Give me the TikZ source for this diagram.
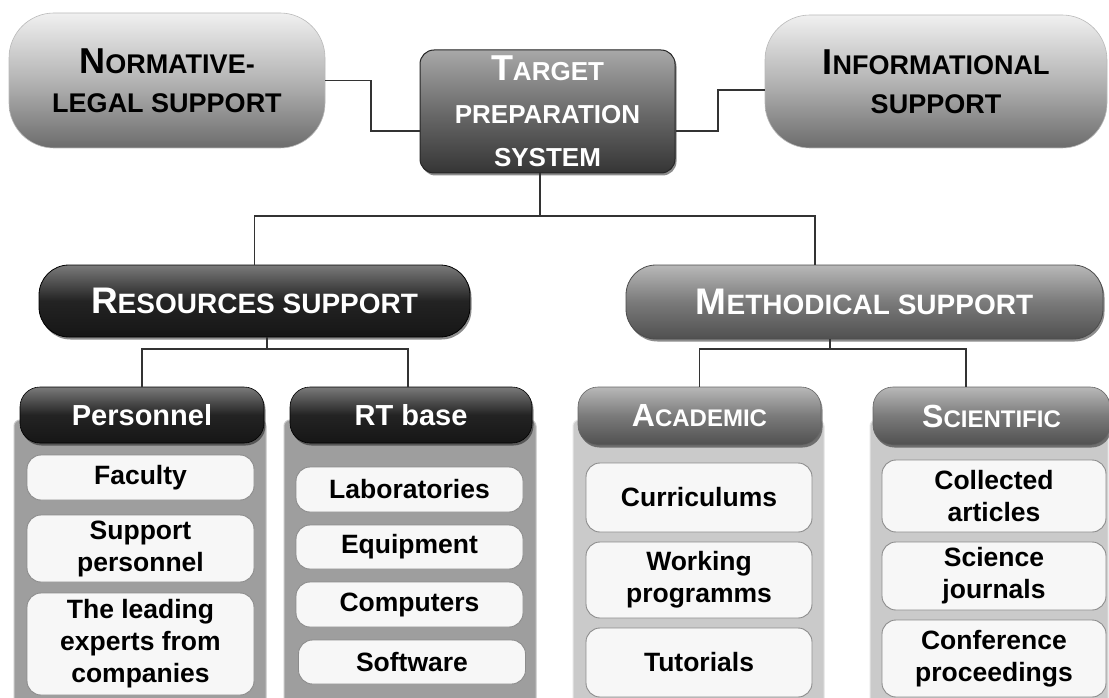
\documentclass[tikz,border=0pt]{standalone}
\usepackage{fontspec}
\setmainfont{Liberation Sans}
\usetikzlibrary{shadows}
\definecolor{lineC}{HTML}{333333}
\definecolor{pillTop}{HTML}{F0F0F0}
\definecolor{pillMid}{HTML}{B4B4B4}
\definecolor{pillBot}{HTML}{6C6C6C}
\definecolor{tgtTop}{HTML}{A8A8A8}
\definecolor{tgtMid}{HTML}{6A6A6A}
\definecolor{tgtBot}{HTML}{353535}
\definecolor{darkTop}{HTML}{7A7A7A}
\definecolor{darkMid}{HTML}{232323}
\definecolor{darkBot}{HTML}{161616}
\definecolor{medTop}{HTML}{B8B8B8}
\definecolor{medMid}{HTML}{7A7A7A}
\definecolor{medBot}{HTML}{505050}
\definecolor{panelDk}{HTML}{9E9E9E}
\definecolor{panelLt}{HTML}{CACACA}
\definecolor{itemFill}{HTML}{F7F7F7}
\definecolor{itemLine}{HTML}{8C8C8C}
\newcommand\Bg[2]{{\fontsize{#1}{#1}\selectfont #2}}
\begin{document}
\begin{tikzpicture}[x=1pt,y=-1pt,
  conn/.style={draw=lineC, line width=1.2pt},
  shad/.style={drop shadow={shadow xshift=1.5pt, shadow yshift=-2.5pt, opacity=0.45, fill=black}},
  pillL/.style={inner sep=0pt, align=center, rounded corners=45pt, top color=pillTop, bottom color=pillBot, middle color=pillMid, draw=gray!55, line width=0.6pt, text=black, font=\bfseries\fontsize{27}{39}\selectfont},
  tgtbox/.style={inner sep=0pt, align=center, rounded corners=14pt, top color=tgtTop, bottom color=tgtBot, middle color=tgtMid, draw=black!85, line width=1pt, text=white, font=\bfseries\fontsize{26}{43}\selectfont, shad},
  pillD/.style={inner sep=0pt, align=center, rounded corners=30pt, top color=darkTop, bottom color=darkBot, middle color=darkMid, draw=black, line width=0.8pt, text=white, font=\bfseries\fontsize{28}{34}\selectfont, shad},
  pillM/.style={inner sep=0pt, align=center, rounded corners=30pt, top color=medTop, bottom color=medBot, middle color=medMid, draw=black!70, line width=0.8pt, text=white, font=\bfseries\fontsize{28}{34}\selectfont, shad},
  hdrD/.style={inner sep=0pt, align=center, rounded corners=20pt, top color=darkTop, bottom color=darkBot, middle color=darkMid, draw=black, line width=0.6pt, text=white, font=\bfseries\fontsize{29}{34}\selectfont, shad},
  hdrM/.style={inner sep=0pt, align=center, rounded corners=20pt, top color=medTop, bottom color=medBot, middle color=medMid, draw=black!60, line width=0.6pt, text=white, font=\bfseries\fontsize{24}{30}\selectfont, shad},
  panelD/.style={inner sep=0pt, rounded corners=6pt, fill=panelDk, draw=gray!45, line width=1pt},
  panelL/.style={inner sep=0pt, rounded corners=6pt, fill=panelLt, draw=gray!20, line width=1pt},
  itembox/.style={inner sep=0pt, align=center, rounded corners=14pt, fill=itemFill, draw=itemLine, line width=0.9pt, text=black, font=\bfseries\fontsize{26.5}{32}\selectfont}
]
\useasboundingbox (0,0) rectangle (1109,698);
\clip (0,0) rectangle (1109,698);
\fill[white] (0,0) rectangle (1109,698);

% top row
\node[pillL, minimum width=316pt, minimum height=135pt] (norm) at (167,80.5) {\Bg{36}{N}ORMATIVE-\\LEGAL SUPPORT};
\node[tgtbox, minimum width=255pt, minimum height=123pt] (tgt) at (547.5,111.5) {\Bg{36}{T}ARGET\\PREPARATION\\SYSTEM};
\node[pillL, minimum width=342pt, minimum height=133pt] (info) at (936,81.5) {\Bg{36}{I}NFORMATIONAL\\SUPPORT};

% middle row
\node[pillD, minimum width=431pt, minimum height=72pt] (res) at (254.5,301) {\Bg{37}{R}ESOURCES SUPPORT};
\node[pillM, minimum width=477pt, minimum height=74pt] (meth) at (864.5,302) {\Bg{37}{M}ETHODICAL SUPPORT};

% panels
\node[panelD, minimum width=252pt, minimum height=300pt] (ppan) at (140,570) {};
\node[panelD, minimum width=252pt, minimum height=300pt] (rpan) at (410,570) {};
\node[panelL, minimum width=251pt, minimum height=300pt] (apan) at (698.5,570) {};
\node[panelL, minimum width=238pt, minimum height=300pt] (span) at (989,570) {};

% headers
\node[hdrD, minimum width=244pt, minimum height=56pt] (pers) at (142,415) {Personnel};
\node[hdrD, minimum width=242pt, minimum height=56pt] (rt) at (411,415) {RT base};
\node[hdrM, minimum width=243pt, minimum height=58pt] (acad) at (699.5,416) {\Bg{32}{A}CADEMIC};
\node[hdrM, minimum width=237pt, minimum height=58pt] (sci) at (991.5,416) {\Bg{32}{S}CIENTIFIC};

% personnel items
\node[itembox, minimum width=227pt, minimum height=45pt] (fac) at (140.5,477.5) {Faculty};
\node[itembox, minimum width=227pt, minimum height=67pt] (supp) at (140.5,548.5) {Support\\personnel};
\node[itembox, minimum width=227pt, minimum height=102pt] (lead) at (140.5,644) {The leading\\experts from\\companies};

% RT base items
\node[itembox, minimum width=227pt, minimum height=45pt] (lab) at (409.5,489.5) {Laboratories};
\node[itembox, minimum width=227pt, minimum height=44pt] (equip) at (409.5,547) {Equipment};
\node[itembox, minimum width=227pt, minimum height=45pt] (comp) at (409.5,604.5) {Computers};
\node[itembox, minimum width=227pt, minimum height=44pt] (soft) at (412,662) {Software};

% academic items
\node[itembox, minimum width=226pt, minimum height=69pt] (curr) at (699,497.5) {Curriculums};
\node[itembox, minimum width=226pt, minimum height=76pt] (work) at (699,580) {Working\\programms};
\node[itembox, minimum width=226pt, minimum height=69pt] (tut) at (699,662.5) {Tutorials};

% scientific items
\node[itembox, minimum width=224pt, minimum height=72pt] (coll) at (994,496) {Collected\\articles};
\node[itembox, minimum width=224pt, minimum height=68pt] (scij) at (994,576) {Science\\journals};
\node[itembox, minimum width=224pt, minimum height=77pt] (conf) at (994,658.5) {Conference\\proceedings};

% connectors
\draw[conn] (norm.east) -| (371,131) -- (tgt.west |- 371,131);
\draw[conn] (tgt.east |- 0,131) -| (718,90) -- (info.west |- 0,90);

\coordinate (busA) at (540,216);
\draw[conn] ([xshift=-7.5pt]tgt.south) -- (busA);
\draw[conn] (res.north) |- (busA) -| (meth.north -| 815,0);

\coordinate (busB) at (267,349);
\draw[conn] ([xshift=12.5pt]res.south) -- (busB);
\draw[conn] (pers.north) |- (busB) -| (rt.north -| 408,0);

\coordinate (busC) at (830,349);
\draw[conn] ([xshift=-34.5pt]meth.south) -- (busC);
\draw[conn] (acad.north) |- (busC) -| (sci.north -| 966,0);
\end{tikzpicture}
\end{document}
